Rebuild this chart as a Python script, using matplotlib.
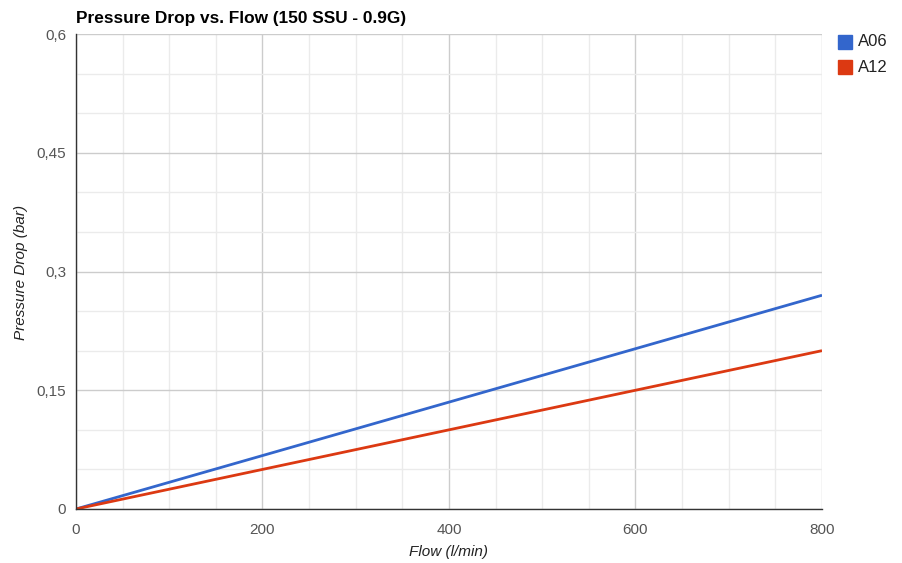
import matplotlib
matplotlib.use("Agg")
import matplotlib.pyplot as plt
import matplotlib.ticker as ticker

plt.rcParams['font.family'] = ['Liberation Sans', 'DejaVu Sans']

# data
flow = [0, 200, 400, 600, 800]
a06 = [0, 0.0675, 0.135, 0.2025, 0.27]
a12 = [0, 0.05, 0.10, 0.15, 0.20]
series_names = ["A06", "A12"]
x_ticks = [0, 200, 400, 600, 800]
y_ticks = [0, 0.15, 0.3, 0.45, 0.6]
y_tick_labels = ["0", "0,15", "0,3", "0,45", "0,6"]

blue = "#3366cc"
red = "#dc3912"

fig = plt.figure(figsize=(9.03, 5.63), dpi=100)
ax = fig.add_axes([76 / 903, 1 - 509 / 563, (822 - 76) / 903, (509 - 34) / 563])

ax.plot(flow, a06, color=blue, lw=2, solid_capstyle='butt', zorder=3)
ax.plot(flow, a12, color=red, lw=2, solid_capstyle='butt', zorder=3)

ax.set_xlim(0, 800)
ax.set_ylim(0, 0.6)
ax.set_xticks(x_ticks)
ax.set_yticks(y_ticks)
ax.set_yticklabels(y_tick_labels)
ax.xaxis.set_minor_locator(ticker.MultipleLocator(50))
ax.yaxis.set_minor_locator(ticker.MultipleLocator(0.05))

ax.grid(True, which='major', color='#cccccc', lw=1, zorder=1)
ax.grid(True, which='minor', color='#ebebeb', lw=1, zorder=0)
ax.set_axisbelow(True)

ax.tick_params(which='both', length=0)
ax.tick_params(axis='both', labelsize=11, labelcolor='#555555')
ax.tick_params(axis='x', pad=10)
ax.tick_params(axis='y', pad=7)

for side in ['top', 'right']:
    ax.spines[side].set_visible(False)
for side in ['left', 'bottom']:
    ax.spines[side].set_color('#333333')
    ax.spines[side].set_linewidth(1)
    ax.spines[side].set_zorder(4)

fig.text(449 / 903, 1 - 552 / 563, "Flow (l/min)", fontsize=11, style='italic',
         color='#222222', ha='center', va='center')
fig.text(21 / 903, 1 - 272 / 563, "Pressure Drop (bar)", fontsize=11, style='italic',
         color='#222222', ha='center', va='center', rotation=90)

fig.text(76 / 903, 1 - 18 / 563, "Pressure Drop vs. Flow (150 SSU - 0.9G)",
         fontsize=12.4, fontweight='bold', color='black', va='center', ha='left')

# legend
for i, (name, c) in enumerate(zip(series_names, [blue, red])):
    y = 42 + i * 25
    fig.patches.append(plt.Rectangle((838 / 903, 1 - (y + 7) / 563), 14 / 903, 14 / 563,
                                     transform=fig.transFigure, color=c, figure=fig))
    fig.text(858 / 903, 1 - y / 563, name, fontsize=12, color='#222222', va='center', ha='left')

plt.savefig("out.png")
plt.close()
